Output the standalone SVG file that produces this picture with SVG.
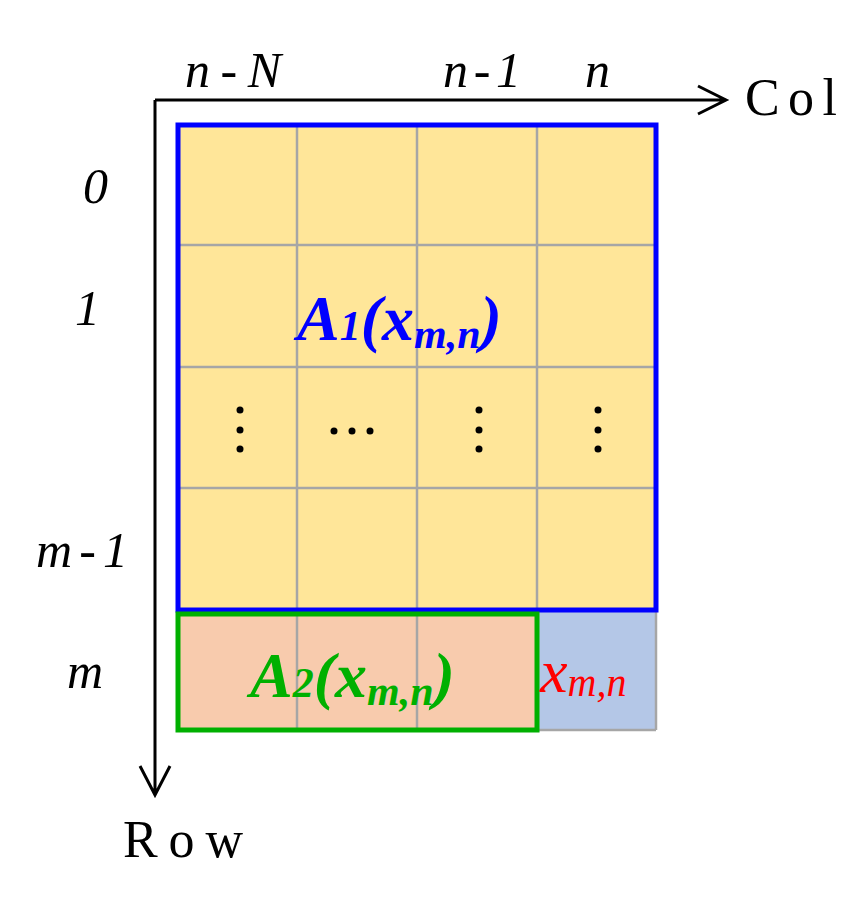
<svg xmlns="http://www.w3.org/2000/svg" width="868" height="903" viewBox="0 0 868 903">
<style>
.t{font-family:"Liberation Serif",serif;font-style:italic;font-size:50px;fill:#000}
.g{stroke:#A6A6A6;stroke-width:2.5;fill:none}
.d{fill:#000}
.b{font-family:"Liberation Serif",serif;font-style:italic;font-weight:bold;font-size:64px}
</style>
<rect width="868" height="903" fill="#fff"/>
<g id="cells">
<rect x="178" y="125" width="478" height="485" fill="#FFE699"/>
<rect x="178" y="610" width="359" height="120" fill="#F8CBAD"/>
<rect x="537" y="610" width="119" height="120" fill="#B4C7E7"/>
<path class="g" d="M297 125V730M417 125V730M537 125V730M178 245H656M178 367H656M178 488H656M178 730H656M656 610V730"/>
</g>
<g id="A1box"><rect x="178" y="125" width="478" height="485" fill="none" stroke="#0000FF" stroke-width="5"/></g>
<g id="A2box"><rect x="178" y="614" width="359" height="116" fill="none" stroke="#00B000" stroke-width="5"/></g>
<g id="connectors" stroke="#000" stroke-width="3" fill="none">
<path d="M155 100V795M140 766L155 795L170 766"/>
<path d="M155 100H725M698 86L726 100L698 114"/>
</g>
<g id="dots" class="d">
<circle cx="240" cy="410" r="3.5"/><circle cx="240" cy="430" r="3.5"/><circle cx="240" cy="449" r="3.5"/>
<circle cx="334" cy="431" r="3.5"/><circle cx="352" cy="431" r="3.5"/><circle cx="370" cy="431" r="3.5"/>
<circle cx="479" cy="410" r="3.5"/><circle cx="479" cy="430" r="3.5"/><circle cx="479" cy="449" r="3.5"/>
<circle cx="598" cy="410" r="3.5"/><circle cx="598" cy="430" r="3.5"/><circle cx="598" cy="449" r="3.5"/>
</g>
<g id="labels">
<text class="t" x="185" y="87" textLength="96">n-N</text>
<text class="t" x="443" y="87" textLength="78">n-1</text>
<text class="t" x="585" y="87">n</text>
<text x="745" y="115" font-family="Liberation Serif,serif" font-size="52" textLength="92">Col</text>
<text x="123" y="857" font-family="Liberation Serif,serif" font-size="52" textLength="120">Row</text>
<text class="t" x="83" y="203">0</text>
<text class="t" x="75" y="325">1</text>
<text class="t" x="36" y="567" textLength="92">m-1</text>
<text class="t" x="67" y="688">m</text>
<text class="b" x="297" y="340" fill="#0000FF">A<tspan font-size="42">1</tspan>(x<tspan font-size="42" dy="8">m,n</tspan><tspan dy="-8">)</tspan></text>
<text class="b" x="250" y="697" fill="#00B000">A<tspan font-size="42">2</tspan>(x<tspan font-size="42" dy="8">m,n</tspan><tspan dy="-8">)</tspan></text>
<text x="540" y="692" font-family="Liberation Serif,serif" font-style="italic" font-size="62" fill="#FF0000">x<tspan font-size="40" dy="4">m,n</tspan></text>
</g>
</svg>
